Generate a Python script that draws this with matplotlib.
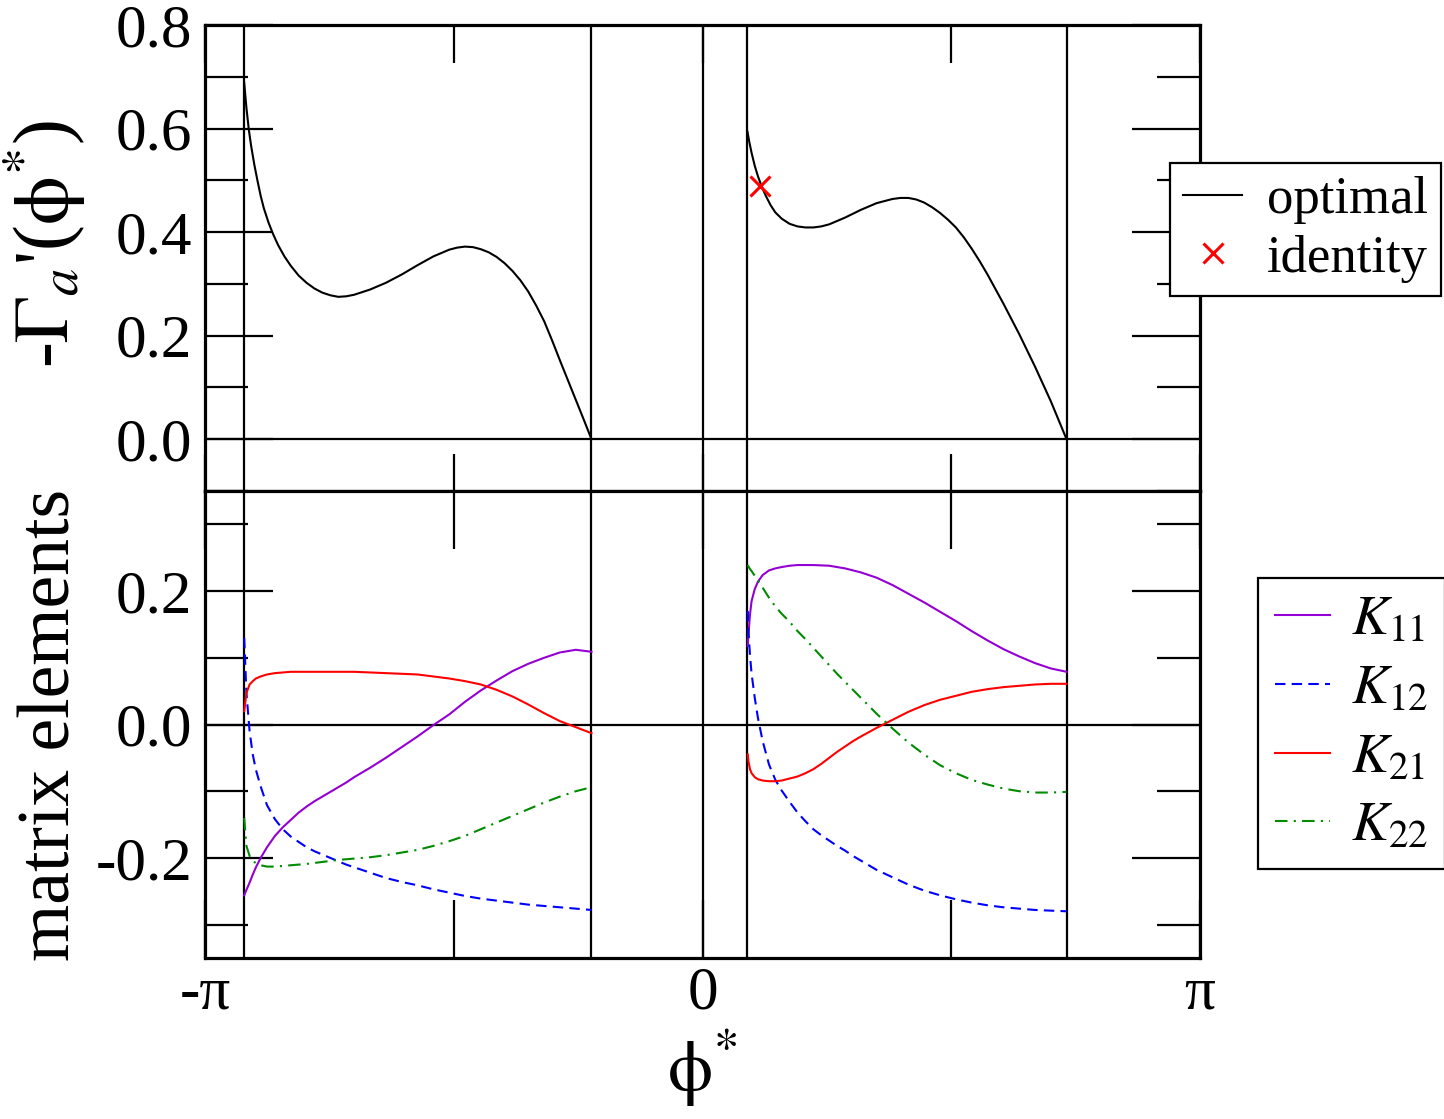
import numpy as np
import matplotlib
matplotlib.use("Agg")
import matplotlib.pyplot as plt

plt.rcParams['font.family'] = ['Liberation Serif', 'DejaVu Serif']
plt.rcParams['mathtext.fontset'] = 'stix'
plt.rcParams['axes.unicode_minus'] = False

# branch limits (vertical lines) and x = 0
bounds = [-2.894, -0.701, 0.0, 0.284, 2.299]

# top panel: -Gamma_a'(phi*), optimal
x_top1 = [-2.894, -2.88, -2.865, -2.85, -2.83, -2.81, -2.79, -2.77, -2.74, -2.71, -2.68, -2.64, -2.6,
          -2.55, -2.5, -2.45, -2.4, -2.35, -2.3, -2.25, -2.2, -2.1, -2.0, -1.9, -1.8, -1.7, -1.6,
          -1.55, -1.5, -1.45, -1.4, -1.35, -1.3, -1.25, -1.2, -1.15, -1.1, -1.05, -1.0, -0.95, -0.9,
          -0.85, -0.8, -0.75, -0.701]
g_top1 = [0.688, 0.640, 0.598, 0.566, 0.530, 0.499, 0.470, 0.446, 0.418, 0.395, 0.375, 0.353, 0.335,
          0.316, 0.302, 0.291, 0.283, 0.278, 0.275, 0.276, 0.279, 0.289, 0.302, 0.318, 0.336, 0.353, 0.366,
          0.370, 0.372, 0.371, 0.367, 0.361, 0.352, 0.340, 0.325, 0.307, 0.285, 0.258, 0.228, 0.191, 0.152,
          0.114, 0.076, 0.038, 0.0]
x_top2 = [0.284, 0.295, 0.31, 0.33, 0.35, 0.375, 0.40, 0.43, 0.46, 0.50, 0.55, 0.6, 0.65, 0.7, 0.75,
          0.8, 0.9, 1.0, 1.1, 1.2, 1.25, 1.3, 1.35, 1.4, 1.45, 1.5, 1.55, 1.6, 1.65, 1.7, 1.75, 1.8,
          1.9, 2.0, 2.1, 2.2, 2.299]
g_top2 = [0.594, 0.575, 0.553, 0.528, 0.508, 0.487, 0.470, 0.452, 0.438, 0.426, 0.416, 0.411, 0.409,
          0.409, 0.411, 0.415, 0.428, 0.443, 0.456, 0.464, 0.466, 0.466, 0.463, 0.457, 0.448, 0.437,
          0.424, 0.409, 0.390, 0.368, 0.344, 0.318, 0.262, 0.203, 0.140, 0.073, 0.0]
x_ident = [0.366]
g_ident = [0.490]

# bottom panel: matrix elements
x_b1 = [-2.894, -2.88, -2.86, -2.84, -2.82, -2.79, -2.75, -2.7, -2.65, -2.6, -2.55, -2.5, -2.45, -2.4,
        -2.35, -2.3, -2.25, -2.2, -2.1, -2.0, -1.9, -1.8, -1.7, -1.6, -1.5, -1.4, -1.3, -1.2, -1.1,
        -1.0, -0.9, -0.8, -0.701]
k11_1 = [-0.256, -0.248, -0.237, -0.225, -0.214, -0.200, -0.184, -0.167, -0.154, -0.143, -0.132, -0.123,
         -0.115, -0.108, -0.101, -0.094, -0.087, -0.079, -0.065, -0.050, -0.034, -0.018, -0.001, 0.015,
         0.034, 0.051, 0.066, 0.080, 0.091, 0.100, 0.108, 0.112, 0.109]
k12_1 = [0.130, 0.047, -0.010, -0.045, -0.068, -0.093, -0.121, -0.142, -0.157, -0.168, -0.176, -0.184,
         -0.190, -0.195, -0.200, -0.205, -0.210, -0.214, -0.222, -0.230, -0.236, -0.241, -0.247, -0.252,
         -0.257, -0.261, -0.264, -0.267, -0.270, -0.272, -0.274, -0.276, -0.278]
k21_1 = [0.020, 0.047, 0.060, 0.065, 0.069, 0.072, 0.075, 0.077, 0.078, 0.079, 0.079, 0.079, 0.079, 0.079,
         0.079, 0.079, 0.079, 0.079, 0.078, 0.077, 0.076, 0.075, 0.072, 0.069, 0.065, 0.060, 0.052, 0.042,
         0.030, 0.017, 0.005, -0.004, -0.013]
k22_1 = [-0.140, -0.182, -0.197, -0.204, -0.208, -0.211, -0.213, -0.213, -0.212, -0.211, -0.210, -0.209,
         -0.2075, -0.206, -0.2045, -0.203, -0.202, -0.201, -0.199, -0.196, -0.192, -0.188, -0.182, -0.175,
         -0.167, -0.157, -0.147, -0.137, -0.127, -0.117, -0.108, -0.100, -0.094]

x_b2 = [0.286, 0.29, 0.30, 0.31, 0.33, 0.35, 0.38, 0.42, 0.46, 0.5, 0.55, 0.6, 0.65, 0.7, 0.75, 0.8,
        0.85, 0.9, 0.95, 1.0, 1.1, 1.2, 1.3, 1.4, 1.5, 1.6, 1.7, 1.8, 1.9, 2.0, 2.1, 2.2, 2.299]
k11_2 = [0.118, 0.135, 0.165, 0.185, 0.203, 0.214, 0.224, 0.231, 0.234, 0.236, 0.238, 0.239, 0.239, 0.239,
         0.2385, 0.238, 0.236, 0.234, 0.231, 0.228, 0.220, 0.209, 0.196, 0.183, 0.169, 0.155, 0.140,
         0.126, 0.113, 0.102, 0.092, 0.084, 0.079]
k12_2 = [0.170, 0.140, 0.103, 0.076, 0.040, 0.010, -0.025, -0.060, -0.083, -0.099, -0.116, -0.132,
         -0.145, -0.157, -0.166, -0.174, -0.182, -0.189, -0.197, -0.204, -0.218, -0.229, -0.240, -0.249,
         -0.256, -0.262, -0.267, -0.271, -0.274, -0.276, -0.278, -0.279, -0.280]
k21_2 = [-0.045, -0.055, -0.067, -0.073, -0.079, -0.082, -0.084, -0.085, -0.085, -0.084, -0.081, -0.078,
         -0.073, -0.067, -0.059, -0.050, -0.041, -0.033, -0.025, -0.018, -0.005, 0.007, 0.019, 0.029,
         0.037, 0.043, 0.049, 0.053, 0.056, 0.058, 0.060, 0.061, 0.061]
k22_2 = [0.239, 0.237, 0.233, 0.230, 0.223, 0.216, 0.205, 0.190, 0.177, 0.166, 0.154, 0.140, 0.128,
         0.115, 0.102, 0.089, 0.076, 0.064, 0.052, 0.040, 0.016, -0.006, -0.027, -0.045, -0.061, -0.073,
         -0.083, -0.090, -0.096, -0.100, -0.102, -0.102, -0.101]

violet = '#9400d3'
green4 = '#008b00'
lw = 1.5

W, H = 1444, 1119
fig = plt.figure(figsize=(W / 100, H / 100), dpi=100)
ax1 = fig.add_axes([205 / W, 1 - 491 / H, 995 / W, 466 / H])
ax2 = fig.add_axes([205 / W, 1 - 958 / H, 995 / W, 467 / H])

for ax in (ax1, ax2):
    for b in bounds:
        ax.axvline(b, color='k', lw=1.6, zorder=1)
    ax.axhline(0, color='k', lw=1.6, zorder=1)
    for s in ax.spines.values():
        s.set_linewidth(2.3)
    ax.set_xlim(-np.pi, np.pi)
    ax.set_xticks([-np.pi, -np.pi / 2, 0, np.pi / 2, np.pi])
    ax.tick_params(which='both', direction='in', top=True, right=True, width=1.6,
                   labelsize=44, pad=9)

# top panel
l1, = ax1.plot(x_top1, g_top1, color='k', lw=lw, label='optimal')
ax1.plot(x_top2, g_top2, color='k', lw=lw)
m1, = ax1.plot(x_ident, g_ident, 'x', color='red', ms=14, mew=2.2, label='identity')
ax1.set_ylim(-0.1, 0.8)
ax1.set_yticks(np.arange(0, 0.81, 0.2))
ax1.set_yticks(np.arange(-0.1, 0.8, 0.1), minor=True)
ax1.set_xticks([], minor=True)
ax1.set_yticklabels(['%.1f' % v for v in np.arange(0, 0.81, 0.2)])
ax1.set_xticklabels([])
ax1.tick_params(axis='y', which='major', length=49)
ax1.tick_params(axis='y', which='minor', length=31)
ax1.tick_params(axis='x', which='major', length=27)
ax1.set_ylabel(r"-$\Gamma_{a}$'($\mathrm{\phi}^{*}$)", fontsize=56)
ax1.yaxis.set_label_coords(-0.118, 0.53)

# bottom panel
ax2.plot(x_b1, k11_1, color=violet, lw=lw, label=r'$K_{11}$')
ax2.plot(x_b1, k12_1, color='blue', lw=lw, dashes=(5, 3), label=r'$K_{12}$')
ax2.plot(x_b1, k21_1, color='red', lw=lw, label=r'$K_{21}$')
ax2.plot(x_b1, k22_1, color=green4, lw=lw, dashes=(6, 3, 1, 3), label=r'$K_{22}$')
ax2.plot(x_b2, k11_2, color=violet, lw=lw)
ax2.plot(x_b2, k12_2, color='blue', lw=lw, dashes=(5, 3))
ax2.plot(x_b2, k21_2, color='red', lw=lw)
ax2.plot(x_b2, k22_2, color=green4, lw=lw, dashes=(6, 3, 1, 3))
ax2.set_ylim(-0.35, 0.35)
ax2.set_yticks([-0.2, 0.0, 0.2])
ax2.set_yticklabels(['-0.2', '0.0', '0.2'])
ax2.set_yticks([-0.3, -0.1, 0.1, 0.3], minor=True)
ax2.set_xticks([], minor=True)
ax2.set_xticklabels(['-\u03c0', '', '0', '', '\u03c0'])
ax2.tick_params(axis='y', which='major', length=49)
ax2.tick_params(axis='y', which='minor', length=31)
ax2.tick_params(axis='x', which='major', length=42, pad=6)
ax2.set_ylabel('matrix elements', fontsize=53)
ax2.yaxis.set_label_coords(-0.12, 0.5)
ax2.set_xlabel(r'$\mathrm{\phi}^{*}$', fontsize=52)
ax2.xaxis.set_label_coords(0.5, -0.15)

leg_kw = dict(frameon=True, fancybox=False, framealpha=1, edgecolor='k',
              loc='upper left', borderaxespad=0)
lg1 = ax1.legend(handles=[l1, m1], fontsize=38, bbox_to_anchor=(1170 / W, 1 - 163 / H),
                 bbox_transform=fig.transFigure, handlelength=1.12, handletextpad=0.47,
                 labelspacing=0.2, borderpad=0.25, **leg_kw)
lg1.get_frame().set_linewidth(1.6)
lg2 = ax2.legend(fontsize=40, bbox_to_anchor=(1258 / W, 1 - 578 / H),
                 bbox_transform=fig.transFigure, handlelength=1.0, handletextpad=0.38,
                 labelspacing=0.3, borderpad=0.3, **leg_kw)
lg2.get_frame().set_linewidth(1.6)

fig.savefig('out.png', dpi=100)
